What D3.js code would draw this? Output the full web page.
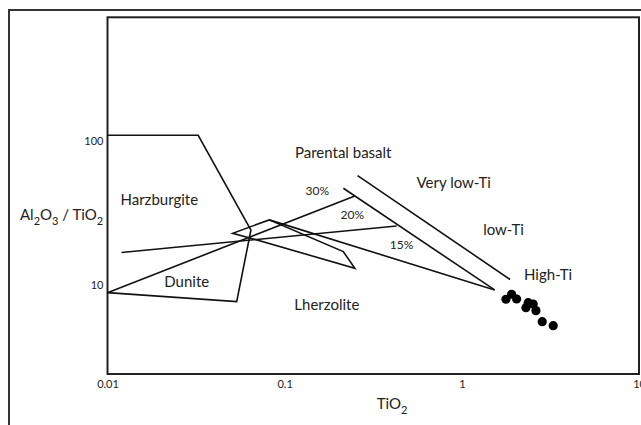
<!DOCTYPE html>
<html>
<head>
<meta charset="utf-8">
<script src="https://cdn.jsdelivr.net/npm/d3@7"></script>
<style>
  html, body { margin: 0; padding: 0; background: #fff; }
  svg { display: block; }
  text { font-family: Lato, "Open Sans", sans-serif; fill: #222; }
</style>
</head>
<body>
<svg id="chart" width="641" height="425"></svg>
<script>
// ---- data (TiO2 wt%, Al2O3/TiO2) ----
const xTicks = [0.01, 0.1, 1, 10];
const xTickLabels = ["0.01", "0.1", "1", "10"];
const yTicks = [10, 100];
const yTickLabels = ["10", "100"];

// Harzburgite / Dunite field boundary
const harzDuniteLine = [[0.01, 100], [0.0325, 100], [0.0645, 22.0], [0.0536, 7.02], [0.01, 8.1]];
// Dunite upper boundary (to 30% melting point)
const duniteUpper = [[0.01, 8.1], [0.249, 37.9]];
// Lherzolite trend line
const lherzLine = [[0.0120, 15.4], [0.4285, 23.5]];
// small lherzolite field
const lherzField = [[0.0637, 19.4], [0.0509, 20.9], [0.0818, 25.9], [0.2142, 15.6], [0.249, 11.96], [0.0637, 19.4]];
// melting trend from field apex
const apexLine = [[0.0818, 25.9], [1.531, 8.46]];
// partial melting line (30%-20%-15%)
const meltLine = [[0.2145, 42.9], [1.531, 8.46]];
// parental basalt boundary
const parentalLine = [[0.258, 52.5], [1.873, 10.0]];

// sample points
const sampleTiO2 = [1.774, 1.910, 2.038, 2.301, 2.370, 2.528, 2.619, 2.843, 3.28];
const sampleRatio = [7.29, 7.90, 7.32, 6.37, 6.90, 6.76, 6.08, 5.10, 4.78];

// field labels
const labelText = ["Harzburgite", "Dunite", "Parental basalt", "30%", "20%", "15%", "Very low-Ti", "low-Ti", "High-Ti", "Lherzolite"];
const labelX = [0.0196, 0.028, 0.214, 0.153, 0.2407, 0.457, 0.90, 1.72, 3.07, 0.173];
const labelY = [36.0, 9.65, 75.7, 41.3, 28.0, 17.5, 46.9, 22.0, 10.7, 6.66];
const labelSmall = [false, false, false, true, true, true, false, false, false, false];

// ---- drawing ----
const svg = d3.select("#chart");
const pLeft = 107.5, pRight = 639, pTop = 17.3, pBottom = 374;

const x = d3.scaleLog().domain([0.01, 10]).range([pLeft, pRight]);
const y = d3.scaleLog().domain([2.21, 658]).range([pBottom, pTop]);

// outer frame
svg.append("rect")
  .attr("x", 9).attr("y", 10).attr("width", 700).attr("height", 500)
  .attr("fill", "none").attr("stroke", "#333").attr("stroke-width", 2);

// plot frame
svg.append("rect")
  .attr("x", pLeft).attr("y", pTop).attr("width", pRight - pLeft).attr("height", pBottom - pTop)
  .attr("fill", "none").attr("stroke", "#222").attr("stroke-width", 2);

// x tick labels via axis
const xAxis = d3.axisBottom(x).tickValues(xTicks)
  .tickFormat((d, i) => xTickLabels[i]).tickSize(0).tickPadding(6);
const gx = svg.append("g").attr("transform", `translate(0,${pBottom})`).call(xAxis);
gx.select(".domain").remove();
gx.selectAll("text").style("font-family", "Lato, sans-serif").style("font-size", "11px").attr("fill", "#222");

// y tick labels via axis
const yAxis = d3.axisLeft(y).tickValues(yTicks)
  .tickFormat((d, i) => yTickLabels[i]).tickSize(0).tickPadding(4);
const gy = svg.append("g").attr("transform", `translate(${pLeft},0)`).call(yAxis);
gy.select(".domain").remove();
gy.selectAll("text").style("font-family", "Lato, sans-serif").style("font-size", "11px")
  .attr("fill", "#222").attr("dy", "0.85em");

// lines
const line = d3.line().x(d => x(d[0])).y(d => y(d[1]));
const paths = [harzDuniteLine, duniteUpper, lherzLine, lherzField, apexLine, meltLine, parentalLine];
svg.append("g").selectAll("path").data(paths).join("path")
  .attr("d", line).attr("fill", "none").attr("stroke", "#111")
  .attr("stroke-width", 1.6).attr("stroke-linejoin", "miter");

// sample points
svg.append("g").selectAll("circle").data(sampleTiO2).join("circle")
  .attr("cx", d => x(d)).attr("cy", (d, i) => y(sampleRatio[i]))
  .attr("r", 4.6).attr("fill", "#000");

// field labels
svg.append("g").selectAll("text").data(labelText).join("text")
  .attr("x", (d, i) => x(labelX[i])).attr("y", (d, i) => y(labelY[i]))
  .attr("dy", "0.35em").attr("text-anchor", "middle")
  .style("font-size", (d, i) => labelSmall[i] ? "12px" : "15px")
  .text(d => d);

// axis titles with subscripts
const xt = svg.append("text").attr("x", 392).attr("y", 409).attr("text-anchor", "middle").style("font-size", "15px");
xt.append("tspan").text("TiO");
xt.append("tspan").attr("dy", 5).style("font-size", "11px").text("2");

const yt = svg.append("text").attr("x", 20).attr("y", 220).style("font-size", "15px");
yt.append("tspan").text("Al");
yt.append("tspan").attr("dy", 5).style("font-size", "11px").text("2");
yt.append("tspan").attr("dy", -5).text("O");
yt.append("tspan").attr("dy", 5).style("font-size", "11px").text("3");
yt.append("tspan").attr("dy", -5).text(" / TiO");
yt.append("tspan").attr("dy", 5).style("font-size", "11px").text("2");
</script>
</body>
</html>
